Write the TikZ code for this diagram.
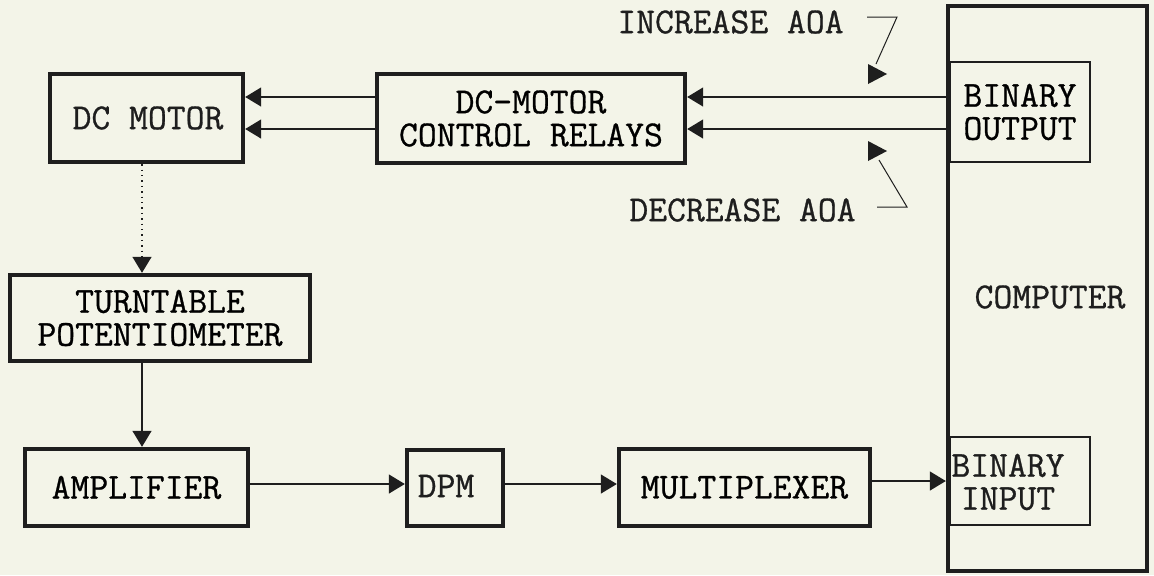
\documentclass[tikz,border=0pt]{standalone}
\usepackage{fontspec}
\newfontfamily\cour[FakeBold=0.8]{Latin Modern Mono}
\usetikzlibrary{arrows.meta}
\definecolor{paper}{RGB}{243,244,232}
\definecolor{ink}{RGB}{30,30,30}
\begin{document}
\begin{tikzpicture}[x=0.5pt,y=-0.5pt,
  font=\cour\fontsize{18.3}{16.5}\selectfont,
  thickbox/.style={draw=ink, line width=2.2pt, inner sep=0pt, align=center},
  thinbox/.style={draw=ink, line width=0.6pt, inner sep=0pt, align=center},
  lbl/.style={inner sep=0pt, align=center, text=ink},
  arr/.style={draw=ink, line width=0.7pt, -{Triangle[length=8pt,width=9.5pt]}},
  lead/.style={draw=ink, line width=0.5pt}]
\fill[paper] (0,0) rectangle (1154,575);
\useasboundingbox (0,0) rectangle (1154,575);
% nodes
\node[thickbox, minimum width=96.5pt, minimum height=44pt] (dcm) at (146.5,118) {};
\node[lbl] (dcmt) at (148,118) {DC MOTOR};
\node[thickbox, minimum width=154pt, minimum height=44.5pt] (rel) at (531,118.5) {DC-MOTOR\\CONTROL RELAYS};
\node[thickbox, minimum width=99.5pt, minimum height=282.5pt] (comp) at (1047.5,288.5) {};
\node[lbl] (compt) at (1050,297) {COMPUTER};
\node[thinbox, minimum width=70pt, minimum height=50pt] (bout) at (1020,112) {BINARY\\OUTPUT};
\node[thickbox, minimum width=150pt, minimum height=43pt] (turn) at (160,318) {TURNTABLE\\POTENTIOMETER};
\node[thickbox, minimum width=111.5pt, minimum height=38.5pt] (amp) at (136.5,487.5) {AMPLIFIER};
\node[thickbox, minimum width=48pt, minimum height=38pt] (dpm) at (455,488) {};
\node[lbl] (dpmt) at (446,486) {DPM};
\node[thickbox, minimum width=125.5pt, minimum height=38.5pt] (mux) at (744.5,487.5) {MULTIPLEXER};
\node[thinbox, minimum width=70pt, minimum height=44pt] (bin) at (1020,481) {};
\node[lbl] (bint) at (1008,482) {BINARY\\INPUT};
\node[lbl, anchor=west] (inc) at (617,22) {INCREASE AOA};
\node[lbl, anchor=west] (dec) at (629,210) {DECREASE AOA};
% helper coordinates
\coordinate (ya) at (0,97);
\coordinate (yb) at (0,129);
\coordinate (yc) at (0,484);
\coordinate (yd) at (0,481);
\coordinate (xv) at (142,0);
% connectors
\draw[arr] (rel.west|-ya) -- (dcm.east|-ya);
\draw[arr] (rel.west|-yb) -- (dcm.east|-yb);
\draw[arr] (comp.west|-ya) -- (rel.east|-ya);
\draw[arr] (comp.west|-yb) -- (rel.east|-yb);
\draw[arr, dotted] (dcm.south-|xv) -- (turn.north-|xv);
\draw[arr] (turn.south-|xv) -- (amp.north-|xv);
\draw[arr] (amp.east|-yc) -- (dpm.west|-yc);
\draw[arr] (dpm.east|-yc) -- (mux.west|-yc);
\draw[arr] (mux.east|-yd) -- (comp.west|-yd);
% callouts
\fill[ink] (868,64) -- (887,74) -- (868,84) -- cycle;
\fill[ink] (868,141) -- (887,151) -- (868,161) -- cycle;
\draw[lead] (867,17) -- (897,17) -- (876,64);
\draw[lead] (877,207) -- (907,207) -- (879,160);
\end{tikzpicture}
\end{document}
